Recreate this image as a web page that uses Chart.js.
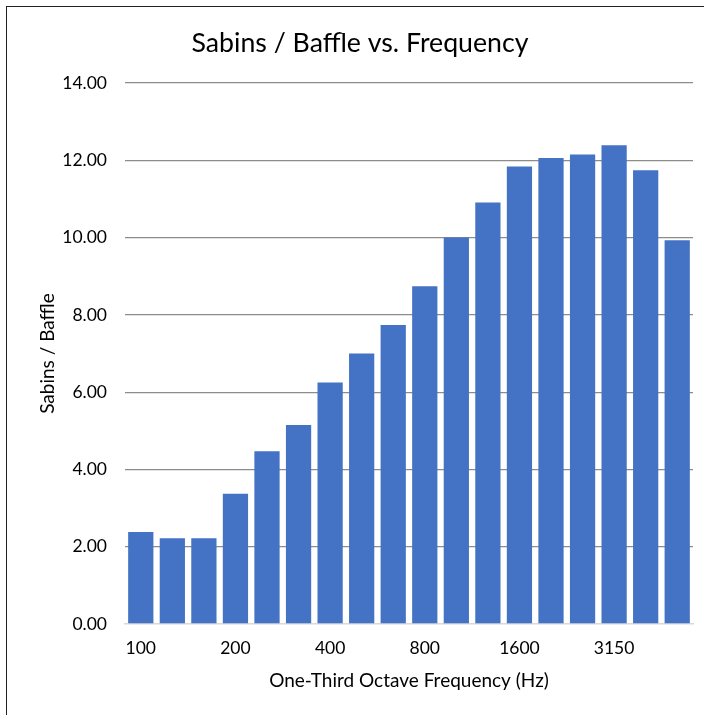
<!DOCTYPE html>
<html>
<head>
<meta charset="utf-8">
<script src="https://cdn.jsdelivr.net/npm/chart.js@4.4.1/dist/chart.umd.min.js"></script>
<style>
  html, body { margin: 0; padding: 0; background: #fff; }
  #wrap { position: relative; width: 704px; height: 715px; }
  #frame { position: absolute; left: 6px; top: 6px; width: 700px; height: 720px; border: 1px solid #222; box-sizing: border-box; pointer-events: none; }
</style>
</head>
<body>
<div id="wrap">
  <canvas id="myChart" width="704" height="715"></canvas>
  <div id="frame"></div>
</div>
<script>
// one-third octave bands
var bands = ["100","125","160","200","250","315","400","500","630","800","1000","1250","1600","2000","2500","3150","4000","5000"];
var sabins = [2.38,2.22,2.22,3.37,4.47,5.15,6.25,7.0,7.74,8.74,10.0,10.91,11.84,12.06,12.15,12.39,11.74,9.93];
var yTicks = [0,2,4,6,8,10,12,14];

var font = "Lato, 'Open Sans', sans-serif";
Chart.defaults.font.family = font;
Chart.defaults.color = '#262626';

var ctx = document.getElementById("myChart");
var myChart = new Chart(ctx, {
  type: 'bar',
  data: {
    labels: bands,
    datasets: [{
      label: "Sabins / Baffle",
      backgroundColor: "#4472C4",
      borderWidth: 0,
      categoryPercentage: 1,
      barPercentage: 0.8,
      data: sabins
    }]
  },
  options: {
    responsive: false,
    animation: false,
    layout: { padding: { left: 27, right: 11, top: 27, bottom: 0 } },
    plugins: {
      legend: { display: false },
      tooltip: { enabled: false },
      title: {
        display: true,
        text: 'Sabins / Baffle vs. Frequency',
        font: { size: 26.7, weight: 'normal' },
        color: '#000',
        padding: { top: 0, bottom: 24 }
      }
    },
    scales: {
      x: {
        grid: { display: false },
        border: { color: '#d9d9d9', width: 1.5 },
        ticks: {
          autoSkip: false, maxRotation: 0, padding: 6,
          font: { size: 17.5 }, color: '#000',
          callback: function(v, i) { return i % 3 === 0 ? bands[i] : ''; }
        },
        title: {
          display: true, text: 'One-Third Octave Frequency (Hz)',
          font: { size: 19 }, color: '#000',
          padding: { top: 22.6, bottom: 22.6 }
        },
        afterFit: function(s) { s.height = 91; }
      },
      y: {
        min: 0, max: 14,
        afterBuildTicks: function(s) { s.ticks = yTicks.map(function(v) { return { value: v }; }); },
        grid: {
          drawTicks: false,
          color: function(c) { return c.tick && c.tick.value === 0 ? 'rgba(0,0,0,0)' : '#8c8c8c'; },
          lineWidth: 1.3
        },
        border: { display: false },
        ticks: {
          padding: 18, font: { size: 17.5 }, color: '#000',
          callback: function(v) { return Number(v).toFixed(2); }
        },
        title: {
          display: true, text: 'Sabins / Baffle',
          font: { size: 19 }, color: '#000',
          padding: { top: 9.6, bottom: 0 }
        },
        afterFit: function(s) { s.width = 98; }
      }
    }
  }
});
</script>
</body>
</html>
